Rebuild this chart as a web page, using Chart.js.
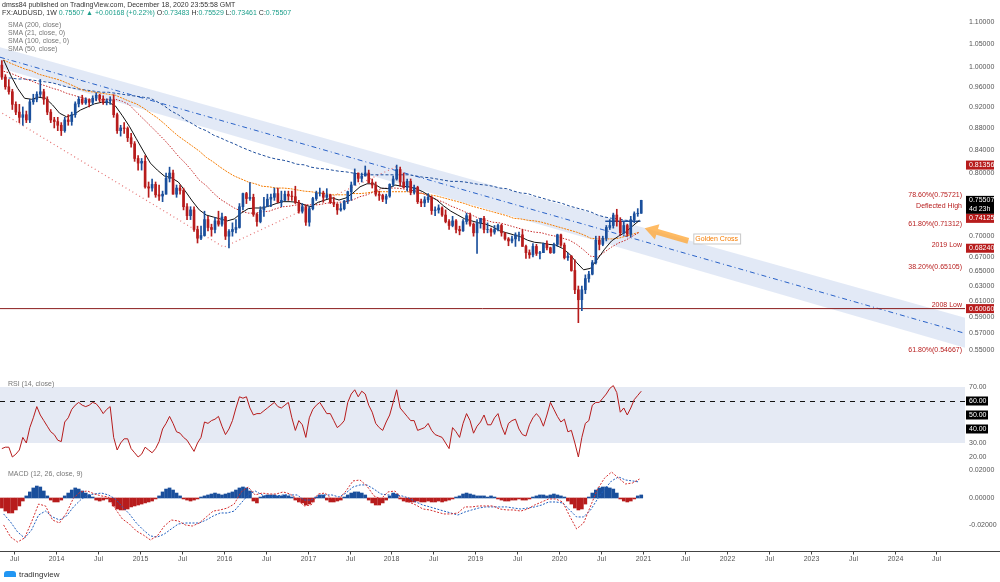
<!DOCTYPE html>
<html>
<head>
<meta charset="utf-8">
<script src="https://cdn.jsdelivr.net/npm/chart.js@4.4.1/dist/chart.umd.min.js"></script>
<style>
body { margin: 0; background: #fff; width: 1000px; height: 582px; overflow: hidden; position: relative; font-family: "Liberation Sans", Arial, sans-serif; }
canvas { position: absolute; left: 0; }
.t { position: absolute; white-space: nowrap; font-size: 7px; line-height: 8px; color: #333; }
.g { color: #777; }
.v { color: #1b9e8a; }
</style>
</head>
<body>
<canvas id="main" width="1000" height="370" style="top:0"></canvas>
<canvas id="rsi" width="1000" height="93" style="top:370px"></canvas>
<canvas id="macd" width="1000" height="119" style="top:463px"></canvas>

<div class="t" style="left:2px;top:1px">dmss84 published on TradingView.com, December 18, 2020 23:55:58 GMT</div>
<div class="t" style="left:2px;top:9px">FX:AUDUSD, 1W <span class="v">0.75507 ▲ +0.00168 (+0.22%)</span> O:<span class="v">0.73483</span> H:<span class="v">0.75529</span> L:<span class="v">0.73461</span> C:<span class="v">0.75507</span></div>
<div class="t g" style="left:8px;top:21px">SMA (200, close)</div>
<div class="t g" style="left:8px;top:29px">SMA (21, close, 0)</div>
<div class="t g" style="left:8px;top:37px">SMA (100, close, 0)</div>
<div class="t g" style="left:8px;top:45px">SMA (50, close)</div>
<div class="t g" style="left:8px;top:380px">RSI (14, close)</div>
<div class="t g" style="left:8px;top:470px">MACD (12, 26, close, 9)</div>
<div style="position:absolute;left:4px;top:571px;width:12px;height:6px;background:#2196f3;border-radius:3px 3px 0 0"></div>
<div class="t" style="left:19px;top:570px;font-size:8px;line-height:9px">tradingview</div>

<script>
// weekly AUDUSD, sampled every half month from May 2013 to Dec 2020
var firstPeriod = 2013 + 4 / 12;
var opens = [
  1.005,0.980,0.960,0.950,0.925,0.910,0.900,0.905,0.895,0.930,0.935,0.945,0.950,0.935,0.910,0.895,
  0.892,0.885,0.875,0.895,0.892,0.905,0.926,0.935,0.928,0.934,0.929,0.937,0.943,0.936,0.929,0.932,0.934,0.905,0.875,0.880,0.879,0.862,0.851,0.825,
  0.817,0.820,0.777,0.775,0.781,0.764,0.762,0.765,0.791,0.800,0.765,0.775,0.771,0.745,0.731,0.740,0.710,0.697,0.701,0.725,0.713,0.710,0.723,0.718,
  0.729,0.700,0.707,0.710,0.713,0.745,0.766,0.758,0.760,0.733,0.722,0.740,0.745,0.757,0.760,0.766,0.752,0.755,0.765,0.762,0.761,0.752,0.738,0.745,
  0.721,0.742,0.758,0.767,0.767,0.760,0.764,0.752,0.749,0.740,0.742,0.754,0.769,0.780,0.800,0.791,0.795,0.800,0.784,0.780,0.765,0.763,0.757,0.762,
  0.781,0.790,0.806,0.785,0.776,0.786,0.768,0.776,0.753,0.751,0.756,0.760,0.739,0.740,0.743,0.732,0.722,0.716,0.723,0.710,0.708,0.722,0.731,0.718,
  0.705,0.720,0.727,0.710,0.710,0.706,0.710,0.716,0.705,0.696,0.693,0.696,0.702,0.702,0.685,0.676,0.673,0.685,0.675,0.676,0.689,0.683,0.676,0.688,
  0.702,0.687,0.669,0.671,0.651,0.625,0.612,0.625,0.640,0.646,0.662,0.694,0.688,0.697,0.713,0.716,0.732,0.722,0.705,0.716,0.703,0.725,0.734,0.7348
];
var highs = [
  1.015,0.985,0.975,0.955,0.930,0.925,0.920,0.912,0.935,0.945,0.950,0.975,0.955,0.940,0.915,0.900,
  0.900,0.890,0.900,0.905,0.910,0.930,0.940,0.943,0.938,0.936,0.942,0.948,0.945,0.942,0.936,0.940,0.944,0.908,0.885,0.890,0.882,0.870,0.855,0.830,
  0.825,0.830,0.785,0.790,0.785,0.780,0.770,0.800,0.810,0.805,0.780,0.780,0.775,0.750,0.745,0.745,0.715,0.715,0.738,0.730,0.718,0.728,0.738,0.735,
  0.730,0.710,0.720,0.725,0.750,0.767,0.768,0.784,0.765,0.735,0.745,0.760,0.765,0.765,0.775,0.775,0.770,0.770,0.770,0.770,0.778,0.755,0.750,0.748,
  0.745,0.760,0.770,0.775,0.770,0.774,0.765,0.760,0.750,0.750,0.755,0.770,0.785,0.807,0.800,0.800,0.812,0.805,0.790,0.785,0.770,0.765,0.765,0.782,
  0.795,0.8136,0.810,0.800,0.790,0.790,0.780,0.778,0.757,0.761,0.766,0.762,0.745,0.748,0.745,0.740,0.725,0.730,0.725,0.715,0.725,0.735,0.735,0.720,
  0.725,0.727,0.730,0.720,0.712,0.716,0.718,0.718,0.705,0.698,0.700,0.705,0.706,0.710,0.687,0.680,0.689,0.688,0.678,0.690,0.693,0.684,0.690,0.703,
  0.703,0.690,0.675,0.672,0.666,0.630,0.630,0.645,0.650,0.665,0.700,0.700,0.700,0.716,0.725,0.735,0.741,0.728,0.722,0.718,0.730,0.737,0.742,0.7553
];
var lows = [
  0.975,0.955,0.945,0.915,0.905,0.890,0.885,0.890,0.890,0.925,0.930,0.940,0.925,0.905,0.890,0.880,
  0.875,0.866,0.872,0.885,0.885,0.900,0.920,0.925,0.925,0.920,0.925,0.932,0.930,0.925,0.924,0.925,0.900,0.870,0.865,0.870,0.855,0.845,0.820,0.805,
  0.805,0.775,0.760,0.770,0.760,0.755,0.753,0.765,0.785,0.765,0.760,0.765,0.740,0.725,0.725,0.707,0.690,0.695,0.700,0.708,0.700,0.705,0.715,0.715,
  0.695,0.683,0.700,0.705,0.712,0.740,0.750,0.755,0.730,0.715,0.720,0.730,0.745,0.745,0.755,0.752,0.745,0.755,0.755,0.755,0.750,0.735,0.735,0.716,
  0.715,0.740,0.755,0.762,0.752,0.758,0.750,0.745,0.733,0.738,0.740,0.750,0.755,0.780,0.785,0.785,0.795,0.783,0.775,0.762,0.755,0.753,0.750,0.760,
  0.778,0.788,0.778,0.775,0.770,0.764,0.765,0.750,0.745,0.745,0.752,0.733,0.731,0.735,0.730,0.720,0.710,0.714,0.705,0.702,0.707,0.718,0.715,0.700,
  0.675,0.712,0.705,0.705,0.700,0.703,0.708,0.700,0.694,0.686,0.690,0.685,0.693,0.685,0.668,0.668,0.670,0.672,0.667,0.676,0.680,0.675,0.675,0.685,
  0.685,0.667,0.665,0.650,0.620,0.583,0.598,0.620,0.635,0.645,0.660,0.680,0.686,0.693,0.710,0.712,0.715,0.701,0.703,0.700,0.699,0.720,0.730,0.7346
];
var closes = [
  0.980,0.960,0.950,0.925,0.910,0.900,0.905,0.895,0.930,0.935,0.945,0.950,0.935,0.910,0.895,0.892,
  0.885,0.875,0.895,0.892,0.905,0.926,0.935,0.928,0.934,0.929,0.937,0.943,0.936,0.929,0.932,0.934,0.905,0.875,0.880,0.879,0.862,0.851,0.825,0.817,
  0.820,0.777,0.775,0.781,0.764,0.762,0.765,0.791,0.800,0.765,0.775,0.771,0.745,0.731,0.740,0.710,0.697,0.701,0.725,0.713,0.710,0.723,0.718,0.729,
  0.700,0.707,0.710,0.713,0.745,0.766,0.758,0.760,0.733,0.722,0.740,0.745,0.757,0.760,0.766,0.752,0.755,0.765,0.762,0.761,0.752,0.738,0.745,0.721,
  0.742,0.758,0.767,0.767,0.760,0.764,0.752,0.749,0.740,0.742,0.754,0.769,0.780,0.800,0.791,0.795,0.800,0.784,0.780,0.765,0.763,0.757,0.762,0.781,
  0.790,0.806,0.785,0.776,0.786,0.768,0.776,0.753,0.751,0.756,0.760,0.739,0.740,0.743,0.732,0.722,0.716,0.723,0.710,0.708,0.722,0.731,0.718,0.705,
  0.720,0.727,0.710,0.710,0.706,0.710,0.716,0.705,0.696,0.693,0.696,0.702,0.702,0.685,0.676,0.673,0.685,0.675,0.676,0.689,0.683,0.676,0.688,0.702,
  0.687,0.669,0.671,0.651,0.625,0.612,0.625,0.640,0.646,0.662,0.694,0.688,0.697,0.713,0.716,0.732,0.722,0.705,0.716,0.703,0.725,0.734,0.7348,0.7551
];

// moving averages, one reading per month (May 2013 .. Dec 2020)
var sma21 = [1.016,0.984,0.957,0.937,0.935,0.939,0.937,0.924,0.908,0.901,0.905,0.914,0.920,0.926,0.929,0.929,0.922,0.903,0.883,0.860,
  0.838,0.817,0.805,0.795,0.792,0.785,0.770,0.754,0.740,0.732,0.729,0.726,0.723,0.726,0.735,0.742,0.743,0.743,0.746,0.750,
  0.753,0.753,0.752,0.748,0.745,0.752,0.7556,0.759,0.7556,0.759,0.767,0.777,0.782,0.782,0.775,0.774,0.780,0.778,0.777,0.774,
  0.769,0.762,0.7556,0.746,0.738,0.732,0.726,0.723,0.720,0.718,0.714,0.708,0.705,0.702,0.699,0.694,0.691,0.690,0.688,0.687,
  0.682,0.674,0.662,0.652,0.654,0.667,0.681,0.693,0.700,0.706,0.715,0.724];
var sma50 = [0.992,0.988,0.982,0.976,0.972,0.966,0.962,0.957,0.953,0.947,0.943,0.939,0.935,0.934,0.934,0.935,0.935,0.931,0.924,0.910,
  0.897,0.884,0.871,0.858,0.844,0.829,0.817,0.803,0.788,0.779,0.767,0.757,0.750,0.743,0.738,0.735,0.735,0.737,0.738,0.742,
  0.745,0.746,0.748,0.748,0.748,0.748,0.750,0.752,0.752,0.753,0.756,0.761,0.764,0.769,0.774,0.775,0.775,0.774,0.772,0.770,
  0.766,0.761,0.756,0.752,0.746,0.742,0.737,0.732,0.727,0.724,0.721,0.720,0.717,0.714,0.711,0.708,0.706,0.705,0.702,0.700,
  0.697,0.694,0.688,0.680,0.671,0.670,0.677,0.684,0.690,0.694,0.700,0.706];
var sma100 = [1.016,1.009,1.003,0.997,0.993,0.986,0.982,0.978,0.974,0.968,0.962,0.955,0.951,0.949,0.947,0.945,0.943,0.937,0.931,0.926,
  0.918,0.908,0.899,0.888,0.876,0.865,0.856,0.847,0.838,0.827,0.819,0.810,0.802,0.795,0.790,0.785,0.782,0.778,0.777,0.775,
  0.775,0.774,0.772,0.770,0.769,0.767,0.766,0.764,0.764,0.764,0.766,0.766,0.767,0.769,0.769,0.769,0.769,0.769,0.769,0.767,
  0.766,0.764,0.762,0.759,0.756,0.753,0.750,0.746,0.743,0.740,0.737,0.734,0.731,0.727,0.726,0.724,0.723,0.721,0.718,0.715,
  0.712,0.709,0.706,0.702,0.697,0.696,0.696,0.696,0.697,0.700,0.703,0.706];
var sma200 = [0.978,0.978,0.976,0.976,0.974,0.972,0.970,0.968,0.964,0.960,0.957,0.955,0.953,0.951,0.949,0.949,0.947,0.945,0.943,0.941,
  0.939,0.937,0.930,0.922,0.912,0.905,0.895,0.888,0.880,0.875,0.867,0.862,0.856,0.851,0.845,0.840,0.835,0.831,0.827,0.824,
  0.822,0.819,0.815,0.814,0.810,0.808,0.807,0.805,0.803,0.802,0.800,0.798,0.797,0.797,0.797,0.797,0.797,0.797,0.797,0.795,
  0.793,0.792,0.790,0.788,0.786,0.786,0.785,0.783,0.781,0.780,0.778,0.775,0.774,0.770,0.767,0.766,0.762,0.759,0.7556,0.753,
  0.750,0.746,0.743,0.740,0.737,0.732,0.729,0.727,0.726,0.724,0.723,0.721];

// RSI (14) per half month
var rsi = [26,27,27,20,22,25,34,30,41,48,56,50,46,42,38,36,32,31,45,48,
  54,57,59,57,56,57,59,58,55,51,54,56,34,25,30,33,33,26,23,20,
  22,27,25,23,26,31,40,44,49,44,38,37,34,32,28,24,30,34,45,44,
  46,47,49,42,36,40,46,55,63,62,63,55,50,51,51,53,55,57,59,56,
  55,57,59,48,39,46,43,34,48,54,57,59,55,51,51,46,41,43,46,59,
  65,68,63,67,65,57,52,44,41,39,45,50,59,68,55,52,49,46,46,39,
  40,41,44,39,36,35,34,30,26,41,38,34,44,51,46,37,42,45,50,43,
  43,48,51,42,36,44,46,47,40,36,35,43,48,51,48,42,50,59,54,49,
  45,47,38,39,30,20,34,44,46,57,59,59,62,65,69,71,66,52,55,50,
  55,61,64,67];

// MACD (12, 26, 9): lines monthly, histogram per half month
var macdLine = [-0.0196,-0.0284,-0.0320,-0.0291,-0.0175,-0.0044,-0.0058,-0.0160,-0.0182,-0.0109,
  0,0.0044,0.0051,0.0029,0.0015,0.0007,-0.0080,-0.0153,-0.0189,-0.0240,
  -0.0269,-0.0305,-0.0276,-0.0204,-0.0160,-0.0167,-0.0196,-0.0204,-0.0182,-0.0138,
  -0.0095,-0.0087,-0.0073,-0.0044,0.0044,0.0080,0.0022,0.0036,0.0029,0.0029,
  0.0044,0.0029,-0.0007,-0.0058,-0.0051,0.0029,0.0036,-0.0007,-0.0007,0.0051,
  0.0124,0.0131,0.0087,0.0015,-0.0007,0.0044,0.0051,-0.0007,-0.0029,-0.0051,
  -0.0080,-0.0087,-0.0102,-0.0116,-0.0116,-0.0109,-0.0065,-0.0065,-0.0058,-0.0058,
  -0.0058,-0.0080,-0.0087,-0.0087,-0.0095,-0.0080,-0.0051,-0.0029,-0.0007,-0.0007,
  -0.0029,-0.0131,-0.0225,-0.0182,-0.0058,0.0065,0.0145,0.0189,0.0145,0.0102,
  0.0109,0.0138];
var macdSignal = [-0.0116,-0.0175,-0.0247,-0.0291,-0.0233,-0.0124,-0.0095,-0.0138,-0.0160,-0.0131,
  -0.0065,-0.0015,0.0022,0.0029,0.0036,0.0022,-0.0007,-0.0065,-0.0116,-0.0182,
  -0.0233,-0.0276,-0.0284,-0.0262,-0.0225,-0.0189,-0.0182,-0.0182,-0.0182,-0.0160,
  -0.0131,-0.0109,-0.0109,-0.0095,-0.0036,0.0022,0.0051,0.0022,0.0007,0.0015,
  0.0022,0.0022,0.0022,-0.0015,-0.0015,0.0015,0.0022,0.0022,0.0007,0.0036,
  0.0080,0.0095,0.0095,0.0065,0.0029,0.0022,0.0022,0.0015,0,-0.0029,
  -0.0051,-0.0065,-0.0080,-0.0095,-0.0109,-0.0124,-0.0102,-0.0087,-0.0073,-0.0065,
  -0.0065,-0.0065,-0.0065,-0.0073,-0.0080,-0.0073,-0.0065,-0.0051,-0.0029,-0.0029,
  -0.0036,-0.0087,-0.0138,-0.0138,-0.0087,-0.0007,0.0065,0.0124,0.0153,0.0131,
  0.0124,0.0116];
var macdHist = [-0.0073,-0.0095,-0.0109,-0.0109,-0.0087,-0.0058,-0.0022,
  0.0015,0.0044,0.0073,0.0087,0.0080,0.0051,0.0015,
  -0.0015,-0.0029,-0.0029,-0.0015,
  0.0015,0.0036,0.0058,0.0073,0.0065,0.0051,0.0036,0.0022,0.0007,
  -0.0015,-0.0022,-0.0015,
  -0.0007,-0.0029,-0.0058,-0.0080,-0.0087,-0.0087,-0.0080,-0.0065,-0.0058,-0.0051,-0.0044,-0.0036,-0.0029,-0.0022,-0.0007,
  0.0015,0.0044,0.0065,0.0073,0.0058,0.0036,0.0015,
  -0.0007,-0.0015,-0.0022,-0.0015,-0.0007,
  0.0007,0.0015,0.0022,0.0029,0.0036,0.0029,0.0022,0.0029,0.0036,0.0044,
  0.0058,0.0073,0.0080,0.0073,0.0051,
  -0.0022,-0.0036,
  0.0007,0.0015,0.0022,0.0022,0.0022,0.0015,0.0015,0.0022,0.0015,0.0007,
  -0.0015,-0.0029,-0.0036,-0.0051,-0.0044,-0.0029,
  0.0007,0.0022,0.0022,
  -0.0015,-0.0029,-0.0029,-0.0022,-0.0015,
  0.0007,0.0022,0.0036,0.0044,0.0044,0.0036,0.0022,
  -0.0015,-0.0036,-0.0051,-0.0051,-0.0036,-0.0015,
  0.0015,0.0036,0.0029,
  -0.0007,-0.0022,-0.0029,-0.0029,-0.0029,-0.0022,-0.0029,-0.0029,-0.0022,-0.0029,-0.0029,-0.0022,-0.0029,-0.0022,-0.0015,
  -0.0007,0.0007,
  0.0015,0.0029,0.0036,0.0029,0.0022,0.0015,0.0015,0.0015,0.0007,0.0015,0.0007,
  -0.0007,-0.0015,-0.0022,-0.0022,-0.0015,-0.0015,-0.0007,-0.0015,-0.0015,-0.0007,
  0.0007,0.0015,0.0022,0.0022,0.0015,0.0022,0.0029,0.0022,0.0015,0.0007,
  -0.0022,-0.0044,-0.0073,-0.0087,-0.0080,-0.0044,
  0.0007,0.0036,0.0058,0.0073,0.0080,0.0080,0.0073,0.0065,0.0036,
  -0.0007,-0.0022,-0.0029,-0.0022,-0.0007,
  0.0015,0.0022];

// drawings: [year, price]
var channelTop = [[2013.332, 1.044], [2024.84, 0.589]];
var channelMid = [[2013.332, 1.022], [2024.84, 0.570]];
var channelBottom = [[2013.332, 0.999], [2024.84, 0.553]];
var trendPink = [[2013.36, 0.908], [2016.0, 0.684], [2018.06, 0.811]];
var low2008 = [[2013.332, 0.6006], [2024.84, 0.6006]];
var resistLine = [[2020.55, 0.7225], [2020.97, 0.7225]];
var arrowTail = [2021.54, 0.693];
var arrowHead = [2021.02, 0.712];
var noteAt = [2021.60, 0.6966];
var noteText = 'Golden Cross';

// axis texts
var priceTicks = [1.10, 1.05, 1.00, 0.96, 0.92, 0.88, 0.84, 0.80, 0.70, 0.67, 0.65, 0.63, 0.61, 0.59, 0.57, 0.55];
var tagPrices = [0.81356, 0.74125, 0.68240, 0.60060];
var lastClose = 0.75507;
var countdown = '4d 23h';
var levelNames = ['78.60%(0.75721)', 'Deflected High', '61.80%(0.71312)', '2019 Low', '38.20%(0.65105)', '2008 Low', '61.80%(0.54667)'];
var levelPrices = [0.75721, 0.74125, 0.71312, 0.68240, 0.65105, 0.60060, 0.54667];
var rsiTicks = [70, 60, 50, 40, 30, 20];
var rsiBoxed = [60, 50, 40];
var macdTicks = [0.02, 0, -0.02];
var xTickValues = [2013.5, 2014, 2014.5, 2015, 2015.5, 2016, 2016.5, 2017, 2017.5, 2018, 2018.5, 2019, 2019.5, 2020, 2020.5, 2021, 2021.5, 2022, 2022.5, 2023, 2023.5, 2024, 2024.5];
var xTickLabels = ['Jul', '2014', 'Jul', '2015', 'Jul', '2016', 'Jul', '2017', 'Jul', '2018', 'Jul', '2019', 'Jul', '2020', 'Jul', '2021', 'Jul', '2022', 'Jul', '2023', 'Jul', '2024', 'Jul'];

var X_MIN = 2013.332, X_MAX = 2024.84;
var UP = '#1a4f9c', DOWN = '#b71c1c';
var FONT = '7px "Liberation Sans", Arial, sans-serif';

var halfMonths = [];
for (var i = 0; i < closes.length; i++) halfMonths.push(firstPeriod + (i + 0.5) / 24);
var months = [];
for (var k = 0; k < sma21.length; k++) months.push(2013 + (4.5 + k) / 12);

function pts(list) { return list.map(function (p) { return {x: p[0], y: p[1]}; }); }
function byMonth(vals) { return vals.map(function (v, i) { return {x: months[i], y: v}; }); }
function candleColor(c) { return closes[c.dataIndex] >= opens[c.dataIndex] ? UP : DOWN; }

function line(label, data, color, width, dash, order) {
  return {type: 'line', label: label, data: data, borderColor: color, borderWidth: width,
    borderDash: dash, pointRadius: 0, tension: 0, fill: false, order: order};
}

var baseOptions = function (yScale, padBottom) {
  return {
    responsive: false, animation: false, events: [],
    layout: {padding: {left: 0, right: 35, top: 0, bottom: padBottom}},
    plugins: {legend: {display: false}, tooltip: {enabled: false}},
    scales: {x: {type: 'linear', min: X_MIN, max: X_MAX, offset: false, display: false}, y: yScale}
  };
};

var mainPanel = {
  id: 'mainPanel',
  afterDraw: function (chart) {
    var ctx = chart.ctx, a = chart.chartArea, x = chart.scales.x, y = chart.scales.y;
    ctx.save();
    ctx.font = FONT;
    ctx.textBaseline = 'middle';
    ctx.textAlign = 'left';
    ctx.fillStyle = '#555';
    priceTicks.forEach(function (v) { ctx.fillText(v.toFixed(5), a.right + 4, y.getPixelForValue(v)); });

    ctx.fillStyle = '#b71c1c';
    ctx.textAlign = 'right';
    ctx.textBaseline = 'bottom';
    levelNames.forEach(function (n, i) { ctx.fillText(n, a.right - 3, y.getPixelForValue(levelPrices[i])); });

    // golden cross arrow
    var hx = x.getPixelForValue(arrowHead[0]), hy = y.getPixelForValue(arrowHead[1]);
    var tx = x.getPixelForValue(arrowTail[0]), ty = y.getPixelForValue(arrowTail[1]);
    var len = Math.hypot(hx - tx, hy - ty);
    ctx.save();
    ctx.translate(tx, ty);
    ctx.rotate(Math.atan2(hy - ty, hx - tx));
    ctx.beginPath();
    ctx.moveTo(0, -3); ctx.lineTo(len - 13, -3); ctx.lineTo(len - 13, -8); ctx.lineTo(len, 0);
    ctx.lineTo(len - 13, 8); ctx.lineTo(len - 13, 3); ctx.lineTo(0, 3); ctx.closePath();
    ctx.fillStyle = 'rgba(255,170,60,0.8)';
    ctx.fill();
    ctx.restore();

    var nx = x.getPixelForValue(noteAt[0]), ny = y.getPixelForValue(noteAt[1]);
    var w = ctx.measureText(noteText).width + 4;
    ctx.fillStyle = '#fff';
    ctx.fillRect(nx, ny - 5, w, 10);
    ctx.strokeStyle = '#c9c9c9';
    ctx.lineWidth = 1;
    ctx.strokeRect(nx + 0.5, ny - 4.5, w, 10);
    ctx.fillStyle = '#f57c00';
    ctx.textAlign = 'left';
    ctx.textBaseline = 'middle';
    ctx.fillText(noteText, nx + 2, ny + 0.5);

    // price tags on the axis
    var tags = tagPrices.map(function (p) {
      return {top: y.getPixelForValue(p) - 4.5, h: 9, lines: [p.toFixed(5)], bg: '#b71c1c'};
    });
    tags.push({top: y.getPixelForValue(lastClose) - 4.5, h: 18, lines: [lastClose.toFixed(5), countdown], bg: '#000'});
    tags.sort(function (m, n) { return m.top - n.top; });
    for (var i = 1; i < tags.length; i++) {
      var prev = tags[i - 1];
      if (tags[i].top < prev.top + prev.h) tags[i].top = prev.top + prev.h;
    }
    tags.forEach(function (t) {
      ctx.fillStyle = t.bg;
      ctx.fillRect(a.right + 1, t.top, 28, t.h);
      ctx.fillStyle = '#fff';
      t.lines.forEach(function (s, j) { ctx.fillText(s, a.right + 4, t.top + 4.5 + j * 9); });
    });
    ctx.restore();
  }
};

new Chart(document.getElementById('main'), {
  type: 'bar',
  data: {
    datasets: [
      {label: 'body', data: opens.map(function (o, i) { return {x: halfMonths[i], y: [o, closes[i]]}; }),
        backgroundColor: candleColor, barThickness: 2, grouped: false, order: 1},
      {label: 'wick', data: lows.map(function (l, i) { return {x: halfMonths[i], y: [l, highs[i]]}; }),
        backgroundColor: candleColor, barThickness: 1, grouped: false, order: 2},
      line('SMA 21', byMonth(sma21), '#111', 1, [], 3),
      line('SMA 50', byMonth(sma50), '#c62828', 1, [1.5, 1.5], 4),
      line('SMA 100', byMonth(sma100), '#f57c00', 1, [2, 1], 5),
      line('SMA 200', byMonth(sma200), '#1f4e9c', 1, [3, 2], 6),
      line('resistance', pts(resistLine), '#1e50a0', 1.5, [], 7),
      line('2008 low', pts(low2008), '#8b1c1c', 1, [], 8),
      line('trend', pts(trendPink), '#e57373', 1.2, [1, 3], 9),
      line('channel mid', pts(channelMid), '#2962c8', 1, [5, 3, 1, 3], 10),
      {type: 'line', label: 'channel top', data: pts(channelTop), borderWidth: 0, pointRadius: 0,
        fill: '+1', backgroundColor: 'rgba(110,145,210,0.2)', order: 11},
      {type: 'line', label: 'channel bottom', data: pts(channelBottom), borderWidth: 0, pointRadius: 0,
        fill: false, order: 12}
    ]
  },
  options: baseOptions({type: 'logarithmic', min: 0.5275, max: 1.1534, display: false}, 0),
  plugins: [mainPanel]
});

var rsiPanel = {
  id: 'rsiPanel',
  beforeDatasetsDraw: function (chart) {
    var ctx = chart.ctx, a = chart.chartArea, y = chart.scales.y;
    ctx.save();
    ctx.fillStyle = '#e5eaf4';
    var top = y.getPixelForValue(70), bot = y.getPixelForValue(30);
    ctx.fillRect(a.left, top, a.right - a.left, bot - top);
    ctx.strokeStyle = '#111';
    ctx.lineWidth = 1;
    ctx.setLineDash([5, 5]);
    ctx.beginPath();
    var y60 = Math.round(y.getPixelForValue(60)) + 0.5;
    ctx.moveTo(a.left, y60); ctx.lineTo(a.right, y60); ctx.stroke();
    ctx.restore();
  },
  afterDraw: function (chart) {
    var ctx = chart.ctx, a = chart.chartArea, y = chart.scales.y;
    ctx.save();
    ctx.font = FONT;
    ctx.textBaseline = 'middle';
    ctx.textAlign = 'left';
    rsiTicks.forEach(function (v) {
      var py = y.getPixelForValue(v);
      if (rsiBoxed.indexOf(v) >= 0) {
        ctx.fillStyle = '#000';
        ctx.fillRect(a.right + 1, py - 4.5, 22, 9);
        ctx.fillStyle = '#fff';
      } else {
        ctx.fillStyle = '#555';
      }
      ctx.fillText(v.toFixed(2), a.right + 4, py);
    });
    ctx.restore();
  }
};

new Chart(document.getElementById('rsi'), {
  type: 'line',
  data: {datasets: [line('RSI', rsi.map(function (v, i) { return {x: halfMonths[i], y: v}; }), '#b71c1c', 1, [], 1)]},
  options: baseOptions({type: 'linear', min: 15.71, max: 82.14, display: false}, 0),
  plugins: [rsiPanel]
});

var macdPanel = {
  id: 'macdPanel',
  afterDraw: function (chart) {
    var ctx = chart.ctx, a = chart.chartArea, x = chart.scales.x, y = chart.scales.y;
    ctx.save();
    ctx.font = FONT;
    ctx.textBaseline = 'middle';
    ctx.textAlign = 'left';
    ctx.fillStyle = '#555';
    macdTicks.forEach(function (v) { ctx.fillText(v.toFixed(5), a.right + 4, y.getPixelForValue(v)); });

    // time axis
    var ly = a.bottom + 2.5;
    ctx.strokeStyle = '#444';
    ctx.lineWidth = 1;
    ctx.beginPath(); ctx.moveTo(0, ly); ctx.lineTo(chart.width, ly); ctx.stroke();
    ctx.textAlign = 'center';
    xTickValues.forEach(function (v, i) {
      var px = Math.round(x.getPixelForValue(v)) + 0.5;
      ctx.beginPath(); ctx.moveTo(px, ly); ctx.lineTo(px, ly + 3); ctx.stroke();
      ctx.fillText(xTickLabels[i], px, ly + 8);
    });
    ctx.restore();
  }
};

new Chart(document.getElementById('macd'), {
  type: 'bar',
  data: {
    datasets: [
      line('MACD', byMonth(macdLine), '#d32f2f', 1, [2, 1.5], 1),
      line('Signal', byMonth(macdSignal), '#1f5fbf', 1, [2, 1.5], 2),
      {label: 'Histogram', data: macdHist.map(function (v, i) { return {x: halfMonths[i], y: v}; }),
        backgroundColor: function (c) { return macdHist[c.dataIndex] >= 0 ? UP : DOWN; },
        barThickness: 3, grouped: false, order: 3}
    ]
  },
  options: baseOptions({type: 'linear', min: -0.0371, max: 0.02545, display: false}, 33),
  plugins: [macdPanel]
});
</script>
</body>
</html>
